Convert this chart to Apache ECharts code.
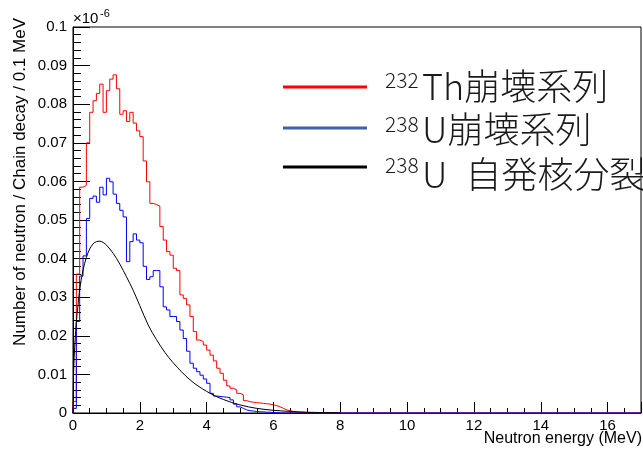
<!DOCTYPE html>
<html>
<head>
<meta charset="utf-8">
<script src="https://cdn.jsdelivr.net/npm/echarts@6/dist/echarts.min.js"></script>
<style>
  html, body { margin: 0; padding: 0; background: #fff; }
  #chart { width: 643px; height: 450px; }
</style>
</head>
<body>
<div id="chart"></div>
<script>
// Neutron energy spectra, 0.1 MeV bins starting at 0 MeV
const BIN_WIDTH = 0.1;
const BIN_COUNT = 170;

// 232Th decay chain, neutrons per chain decay per bin (x1e-6)
const thChainBins = [
  0.0030, 0.0360, 0.0585, 0.0590, 0.0700, 0.0779, 0.0809, 0.0828, 0.0852, 0.0779,
  0.0835, 0.0865, 0.0876, 0.0840, 0.0774, 0.0783, 0.0755, 0.0779, 0.0751, 0.0731,
  0.0716, 0.0653, 0.0599, 0.0543, 0.0540, 0.0536, 0.0483, 0.0448, 0.0418, 0.0409,
  0.0375, 0.0369, 0.0306, 0.0297, 0.0280, 0.0250, 0.0211, 0.0189, 0.0185, 0.0176,
  0.0163, 0.0150, 0.0135, 0.0116, 0.0103, 0.0085, 0.0070, 0.0064, 0.0060, 0.0051,
  0.0047, 0.0032, 0.0029, 0.0028, 0.0027, 0.0026, 0.0025, 0.0024, 0.0023, 0.0021,
  0.0019, 0.0016, 0.0012, 0.0008, 0.0006, 0.0004, 0.0003, 0.0002, 0.0002, 0.0001,
  0.0001, 0.00005, 0.00005, 0.00003, 0.00002
];

// 238U decay chain
const uChainBins = [
  0.0012, 0.0237, 0.0355, 0.0407, 0.0504, 0.0556, 0.0562, 0.0546, 0.0585, 0.0565,
  0.0608, 0.0599, 0.0567, 0.0543, 0.0525, 0.0508, 0.0392, 0.0444, 0.0464, 0.0448,
  0.0441, 0.0380, 0.0346, 0.0353, 0.0369, 0.0369, 0.0327, 0.0275, 0.0267, 0.0250,
  0.0250, 0.0237, 0.0215, 0.0193, 0.0160, 0.0129, 0.0116, 0.0107, 0.0098, 0.0088,
  0.0077, 0.0051, 0.0044, 0.0043, 0.0042, 0.0041, 0.0040, 0.0034, 0.0023, 0.0016,
  0.0012, 0.0008, 0.0006, 0.0005, 0.0004, 0.0003, 0.0003, 0.0002, 0.0002, 0.0001,
  0.0001
];

// 238U spontaneous fission spectrum (smooth curve)
const sfEnergy = [0, 0.02, 0.05, 0.1, 0.15, 0.2, 0.3, 0.4, 0.5, 0.6, 0.7, 0.8, 0.9, 1.0,
  1.2, 1.4, 1.6, 1.8, 2.0, 2.25, 2.5, 2.75, 3.0, 3.5, 4.0, 4.5, 5.0, 5.5, 6.0, 6.5, 7.0, 8.0];
const sfValue = [0, 0.0110, 0.0170, 0.0235, 0.0280, 0.0320, 0.0370, 0.0403, 0.0425, 0.0438,
  0.0444, 0.0445, 0.0442, 0.0435, 0.0414, 0.0386, 0.0353, 0.0318, 0.0278, 0.0228, 0.0190,
  0.0157, 0.0130, 0.0086, 0.0056, 0.0035, 0.0021, 0.0012, 0.0007, 0.0004, 0.0002, 0.00005];

// Legend entries: superscript mass number, label
const legendSup = ['232', '238', '238'];
const legendText = ['Th崩壊系列', 'U崩壊系列', 'U\u2002自発核分裂'];
const legendColor = ['#ff0000', '#3d62ad', '#000000'];

const ROOT_FONT = '"Liberation Sans", Arial, Helvetica, sans-serif';
const JP_FONT = '"Noto Sans CJK JP", "Noto Sans", sans-serif';

// Turn per-bin contents into an outline path (step line)
function histogramOutline(bins) {
  const pts = [[0, 0]];
  for (let k = 0; k < BIN_COUNT; k++) {
    const v = k < bins.length ? bins[k] : 0;
    pts.push([Math.round(k * BIN_WIDTH * 10) / 10, v]);
  }
  pts.push([Math.round(BIN_COUNT * BIN_WIDTH * 10) / 10, 0]);
  return pts;
}

const sfPoints = sfEnergy.map((e, i) => [e, sfValue[i]]);

const chart = echarts.init(document.getElementById('chart'), null, { renderer: 'canvas' });

const legendGraphics = [];
const legendY = [87, 128, 167];
const supY = [80, 124, 165];
const textY = [86, 129, 174];
legendText.forEach((t, i) => {
  legendGraphics.push({
    type: 'line', z: 100,
    shape: { x1: 283, y1: legendY[i], x2: 367, y2: legendY[i] },
    style: { stroke: legendColor[i], lineWidth: 3 }
  });
  legendGraphics.push({
    type: 'text', z: 100, x: 385, y: supY[i],
    style: { text: legendSup[i], fontSize: 21, fontWeight: 300, fontFamily: JP_FONT, fill: '#1a1a1a',
             align: 'left', verticalAlign: 'middle' }
  });
  legendGraphics.push({
    type: 'text', z: 100, x: 422, y: textY[i],
    style: { text: t, fontSize: 36, fontWeight: 300, fontFamily: JP_FONT, fill: '#1a1a1a',
             align: 'left', verticalAlign: 'middle' }
  });
});

const option = {
  animation: false,
  backgroundColor: '#ffffff',
  grid: {
    left: 73, right: 2, top: 27, bottom: 37,
    show: true, borderColor: '#000', borderWidth: 1, backgroundColor: 'transparent',
    containLabel: false, outerBoundsMode: 'none'
  },
  xAxis: {
    type: 'value', min: 0, max: 17, interval: 2,
    axisLine: { show: true, lineStyle: { color: '#000', width: 1 } },
    axisTick: { show: true, inside: true, length: 11, lineStyle: { color: '#000' } },
    minorTick: { show: true, splitNumber: 4, length: 5, lineStyle: { color: '#000' } },
    splitLine: { show: false },
    minorSplitLine: { show: false },
    axisLabel: { color: '#000', fontSize: 15, fontFamily: ROOT_FONT, margin: 5, showMaxLabel: false }
  },
  yAxis: {
    type: 'value', min: 0, max: 0.1, interval: 0.01,
    axisLine: { show: true, lineStyle: { color: '#000', width: 1 } },
    axisTick: { show: true, inside: true, length: 17, lineStyle: { color: '#000' } },
    minorTick: { show: true, splitNumber: 5, length: 8, lineStyle: { color: '#000' } },
    splitLine: { show: false },
    minorSplitLine: { show: false },
    axisLabel: { color: '#000', fontSize: 15, fontFamily: ROOT_FONT, margin: 6 }
  },
  series: [
    {
      name: '232Th', type: 'line', step: 'end', showSymbol: false, clip: false,
      data: histogramOutline(thChainBins),
      lineStyle: { color: '#ff0000', width: 1 }, itemStyle: { color: '#ff0000' }, z: 3
    },
    {
      name: '238U', type: 'line', step: 'end', showSymbol: false, clip: false,
      data: histogramOutline(uChainBins),
      lineStyle: { color: '#0000ff', width: 1 }, itemStyle: { color: '#0000ff' }, z: 4
    },
    {
      name: '238U SF', type: 'line', smooth: 0.35, showSymbol: false, clip: false,
      data: sfPoints,
      lineStyle: { color: '#000', width: 1 }, itemStyle: { color: '#000' }, z: 5
    }
  ],
  graphic: [
    {
      type: 'text', x: 20, y: 18, rotation: Math.PI / 2,
      style: { text: 'Number of neutron / Chain decay / 0.1 MeV', fontSize: 17,
               fontFamily: ROOT_FONT, fill: '#000', align: 'right', verticalAlign: 'middle' }
    },
    {
      type: 'text', x: 642, y: 447,
      style: { text: 'Neutron energy (MeV)', fontSize: 16, fontFamily: ROOT_FONT,
               fill: '#000', align: 'right', verticalAlign: 'bottom' }
    },
    {
      type: 'text', x: 73, y: 26,
      style: { text: '×10', fontSize: 15, fontFamily: ROOT_FONT, fill: '#000',
               align: 'left', verticalAlign: 'bottom' }
    },
    {
      type: 'text', x: 100, y: 19,
      style: { text: '-6', fontSize: 11, fontFamily: ROOT_FONT, fill: '#000',
               align: 'left', verticalAlign: 'bottom' }
    }
  ].concat(legendGraphics)
};

chart.setOption(option);
</script>
</body>
</html>
